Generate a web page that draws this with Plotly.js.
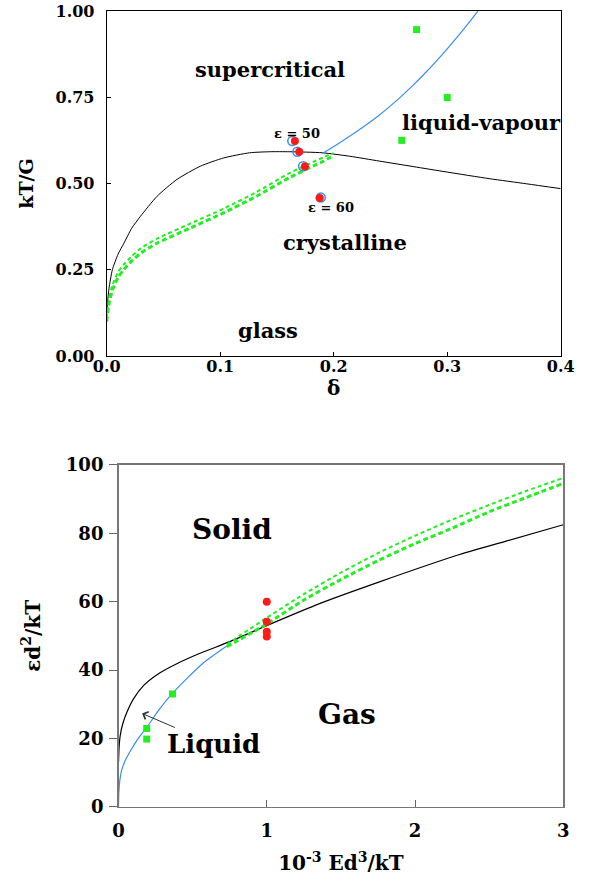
<!DOCTYPE html>
<html><head><meta charset="utf-8">
<script src="https://cdn.plot.ly/plotly-3.0.1.min.js"></script>
<style>html,body{margin:0;padding:0;background:#fff}#chart{width:595px;height:884px}</style>
</head><body><div id="chart"></div>
<script>
// ---------- top panel (kT/G vs delta) ----------
const topBlackX = [0, 0.002, 0.005, 0.01, 0.0152, 0.022, 0.0298, 0.0444, 0.062, 0.0825, 0.103, 0.126, 0.144, 0.161, 0.19, 0.214, 0.24, 0.27, 0.30, 0.337, 0.37, 0.4];
const topBlackY = [0.125, 0.195, 0.25, 0.295, 0.327, 0.37, 0.405, 0.463, 0.512, 0.550, 0.574, 0.589, 0.592, 0.592, 0.589, 0.579, 0.565, 0.549, 0.533, 0.514, 0.499, 0.485];
const topBlueX = [0.19, 0.2, 0.21, 0.22, 0.23, 0.24, 0.25, 0.26, 0.27, 0.28, 0.29, 0.3, 0.31, 0.32, 0.33];
const topBlueY = [0.587, 0.607, 0.628, 0.650, 0.673, 0.698, 0.725, 0.754, 0.785, 0.818, 0.853, 0.890, 0.929, 0.970, 1.012];
const topGreenLoX = [0, 0.002, 0.005, 0.01, 0.015, 0.022, 0.03, 0.0444, 0.0737, 0.103, 0.132, 0.161, 0.191, 0.2];
const topGreenLoY = [0.1, 0.15, 0.19, 0.228, 0.25, 0.275, 0.298, 0.327, 0.371, 0.415, 0.463, 0.517, 0.565, 0.581];
const topGreenHiX = [0, 0.002, 0.005, 0.01, 0.015, 0.022, 0.03, 0.0444, 0.0737, 0.103, 0.132, 0.161, 0.191, 0.2];
const topGreenHiY = [0.11, 0.165, 0.205, 0.243, 0.265, 0.289, 0.312, 0.34, 0.384, 0.427, 0.475, 0.53, 0.576, 0.588];
const topSquareX = [0.273, 0.300, 0.260];
const topSquareY = [0.946, 0.749, 0.625];
const topRingX = [0.1635, 0.168, 0.173, 0.1886];
const topRingY = [0.623, 0.592, 0.550, 0.459];
const topRedX = [0.1658, 0.1696, 0.1746, 0.1877];
const topRedY = [0.623, 0.592, 0.549, 0.458];
const topXTicks = [0, 0.1, 0.2, 0.3, 0.4];
const topXTickText = ['0.0', '0.1', '0.2', '0.3', '0.4'];
const topYTicks = [0, 0.25, 0.5, 0.75, 1.0];
const topYTickText = ['0.00', '0.25', '0.50', '0.75', '1.00'];

// ---------- bottom panel (eps d^2/kT vs 10^-3 E d^3/kT) ----------
const botBlackX = [0, 0.004, 0.012, 0.03, 0.06, 0.1, 0.17, 0.28, 0.4, 0.55, 0.75, 1.0, 1.36, 1.76, 2.3, 2.62, 3.0];
const botBlackY = [13, 17.5, 21, 24.5, 28, 31.5, 35.5, 39.2, 42.0, 44.9, 48.3, 53.0, 59.5, 65.8, 73.8, 77.8, 82.5];
const botBlueX = [0, 0.002, 0.008, 0.02, 0.045, 0.08, 0.13, 0.19, 0.27, 0.36, 0.46, 0.57, 0.73];
const botBlueY = [0, 4, 7.5, 10.5, 13.5, 16.3, 19.8, 23.2, 28.2, 33, 37.5, 42, 47];
const botGreenLoX = [0.73, 1.0, 1.25, 1.5, 1.75, 2.0, 2.25, 2.5, 2.75, 3.0];
const botGreenLoY = [46.8, 53.5, 60.5, 66.5, 72, 77, 81.5, 86.3, 90.5, 94.6];
const botGreenHiX = [0.73, 1.0, 1.25, 1.5, 1.75, 2.0, 2.25, 2.5, 2.75, 3.0];
const botGreenHiY = [47.5, 55.3, 62.2, 68.5, 74.2, 79.3, 84, 88.3, 92.4, 96.2];
const botSquareX = [0.19, 0.19, 0.364];
const botSquareY = [22.9, 19.8, 33.0];
const botRedX = [1, 1, 1, 1];
const botRedY = [60.0, 54.1, 51.2, 49.8];
const botXTicks = [0, 1, 2, 3];
const botYTicks = [0, 20, 40, 60, 80, 100];

const BLUE = '#3a8ee8', GREEN = '#22ee22', RED = '#ff1a1a';
const FAM = 'DejaVu Serif';

function line(x, y, color, width, dash, xa, ya) {
  return {x: x, y: y, mode: 'lines', xaxis: xa, yaxis: ya, hoverinfo: 'skip',
          line: {color: color, width: width, dash: dash || 'solid', shape: 'spline', smoothing: 0.6}};
}
function pts(x, y, symbol, size, color, xa, ya, lw) {
  return {x: x, y: y, mode: 'markers', xaxis: xa, yaxis: ya, cliponaxis: false,
          marker: {symbol: symbol, size: size, color: color, line: {color: color, width: lw || 0}}};
}

const data = [
  line(topBlackX, topBlackY, '#000', 1, null, 'x', 'y'),
  line(topBlueX, topBlueY, BLUE, 1.2, null, 'x', 'y'),
  line(topGreenHiX, topGreenHiY, GREEN, 2, '4px,3px', 'x', 'y'),
  line(topGreenLoX, topGreenLoY, GREEN, 3, '5px,3px', 'x', 'y'),
  pts(topSquareX, topSquareY, 'square', 7, GREEN, 'x', 'y'),
  pts(topRingX, topRingY, 'circle-open', 9, BLUE, 'x', 'y', 1.5),
  pts(topRedX, topRedY, 'circle', 8, RED, 'x', 'y'),

  line(botBlackX, botBlackY, '#000', 1.2, null, 'x2', 'y2'),
  line(botBlueX, botBlueY, BLUE, 1.2, null, 'x2', 'y2'),
  line(botGreenHiX, botGreenHiY, GREEN, 2, '4px,3px', 'x2', 'y2'),
  line(botGreenLoX, botGreenLoY, GREEN, 3, '5px,3px', 'x2', 'y2'),
  pts(botSquareX, botSquareY, 'square', 7, GREEN, 'x2', 'y2'),
  pts(botRedX, botRedY, 'circle', 8, RED, 'x2', 'y2')
];

const tickFontTop = {family: FAM, size: 16, color: '#000', weight: 'bold'};
const tickFontBot = {family: FAM, size: 18, color: '#000', weight: 'bold'};
function lab(text, x, y, size, xr, yr) {
  return {text: text, x: x, y: y, xref: xr, yref: yr, showarrow: false,
          font: {family: FAM, size: size, color: '#000', weight: 'bold'}, xanchor: 'center', yanchor: 'middle'};
}

const layout = {
  width: 595, height: 884, showlegend: false,
  paper_bgcolor: '#fff', plot_bgcolor: '#fff',
  margin: {l: 0, r: 0, t: 0, b: 0},
  xaxis: {domain: [0.1793, 0.9424], range: [0, 0.4], anchor: 'y', tickvals: topXTicks, ticktext: topXTickText,
          ticks: 'inside', ticklen: 4, tickcolor: '#000', showline: true, mirror: true, linecolor: '#000', linewidth: 1,
          showgrid: false, zeroline: false, tickfont: tickFontTop, ticklabelstandoff: -4, automargin: false,
          title: {text: 'δ', font: {family: FAM, size: 20, color: '#000', weight: 'bold'}, standoff: 0}},
  yaxis: {domain: [0.5973, 0.9876], range: [0, 1], anchor: 'x', tickvals: topYTicks, ticktext: topYTickText,
          ticks: 'inside', ticklen: 4, tickcolor: '#000', showline: true, mirror: true, linecolor: '#000', linewidth: 1,
          showgrid: false, zeroline: false, tickfont: tickFontTop, ticklabelstandoff: 8, automargin: false,
          title: {text: 'kT/G', font: {family: FAM, size: 19, color: '#000', weight: 'bold'}, standoff: 16}},
  xaxis2: {domain: [0.1992, 0.9467], range: [0, 3], anchor: 'y2', tickvals: botXTicks,
          ticks: 'inside', ticklen: 7, tickcolor: '#666', showline: true, mirror: true, linecolor: '#777', linewidth: 1.5,
          showgrid: false, zeroline: false, tickfont: tickFontBot, ticklabelstandoff: 7, automargin: false,
          title: {text: '10<sup>-3</sup> Ed<sup>3</sup>/kT', font: {family: FAM, size: 20, color: '#000', weight: 'bold'}, standoff: 16}},
  yaxis2: {domain: [0.0874, 0.474], range: [0, 100], anchor: 'x2', tickvals: botYTicks,
          ticks: 'outside', ticklen: 8, tickcolor: '#666', showline: true, mirror: true, linecolor: '#777', linewidth: 1.5,
          showgrid: false, zeroline: false, tickfont: tickFontBot, ticklabelstandoff: 2, automargin: false,
          title: {text: 'εd<sup>2</sup>/kT', font: {family: FAM, size: 20, color: '#000', weight: 'bold'}, standoff: 20}},
  annotations: [
    lab('supercritical', 0.1439, 0.829, 21, 'x', 'y'),
    lab('liquid-vapour', 0.330, 0.678, 21, 'x', 'y'),
    lab('crystalline', 0.21, 0.3275, 21, 'x', 'y'),
    lab('glass', 0.1425, 0.0725, 21, 'x', 'y'),
    lab('ε = 50', 0.168, 0.646, 13, 'x', 'y'),
    lab('ε = 60', 0.198, 0.429, 13, 'x', 'y'),
    lab('Solid', 0.767, 81.0, 28, 'x2', 'y2'),
    lab('Gas', 1.543, 27.1, 28, 'x2', 'y2'),
    {text: 'Liquid', x: 0.159, y: 27.3, xref: 'x2', yref: 'y2', ax: 0.6386, ay: 18.35, axref: 'x2', ayref: 'y2',
     showarrow: true, arrowhead: 4, arrowsize: 1.6, arrowwidth: 1, arrowcolor: '#333',
     font: {family: FAM, size: 26, color: '#000', weight: 'bold'}}
  ]
};

Plotly.newPlot('chart', data, layout, {staticPlot: true, displayModeBar: false});
</script>
</body></html>
